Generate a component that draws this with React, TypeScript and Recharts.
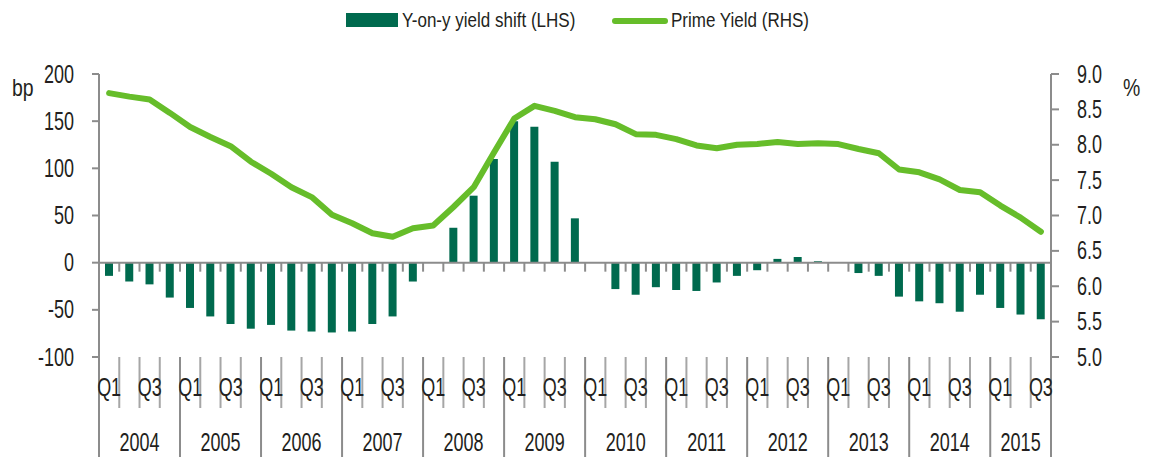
import { ComposedChart, Bar, Line, XAxis, YAxis, ReferenceLine } from "recharts";

// quarterly series, 2004 Q1 .. 2015 Q3
const years = ["2004", "2005", "2006", "2007", "2008", "2009", "2010", "2011", "2012", "2013", "2014", "2015"];
const quartersInYear = [4, 4, 4, 4, 4, 4, 4, 4, 4, 4, 4, 3];
const quarterLabels = ["Q1", "", "Q3", ""];

// Y-on-y yield shift, bp (LHS)
const yieldShift = [
    -14, -20, -23, -37,
    -48, -57, -65, -70,
    -66, -72, -73, -74,
    -73, -65, -57, -20,
    0, 37, 71, 110,
    150, 144, 107, 47,
    0, -28, -34, -26,
    -29, -30, -21, -14,
    -8, 4, 6, 1.5,
    0.5, -11, -14, -36,
    -41, -43, -52, -34,
    -48, -55, -60,
];

// Prime yield, % (RHS)
const primeYield = [
    8.73, 8.68, 8.64, 8.45,
    8.25, 8.11, 7.98, 7.76,
    7.59, 7.4, 7.26, 7.01,
    6.89, 6.75, 6.7, 6.82,
    6.86, 7.12, 7.4, 7.89,
    8.37, 8.55, 8.48, 8.39,
    8.36, 8.29, 8.15, 8.14,
    8.08, 7.99, 7.95, 8.0,
    8.01, 8.04, 8.01, 8.02,
    8.01, 7.94, 7.88, 7.65,
    7.61, 7.51, 7.36, 7.33,
    7.14, 6.97, 6.77,
];

const leftTicks = [-100, -50, 0, 50, 100, 150, 200];
const rightTicks = [5, 5.5, 6, 6.5, 7, 7.5, 8, 8.5, 9];

const FONT = '"Liberation Sans", Arial, sans-serif';
const SQUEEZE = 0.72; // the original uses a condensed face
const W = 1151;
const H = 457;
const PLOT_TOP = 74;
const PLOT_BOTTOM = 357;
const PLOT_LEFT = 99;
const PLOT_RIGHT = 1051;
const BAR = "#006a4e";
const LINE = "#66bd2a";
const AXIS = "#8c8c8c";
const SEP = "#a6a6a6";
const TEXT = "#231f20";

type Cat = { key: string; year: string; q: number; first: boolean; last: boolean; count: number };

const cats: Cat[] = [];
years.forEach((y, yi) => {
    const n = quartersInYear[yi];
    for (let q = 0; q < n; q++) {
        cats.push({ key: `${y} Q${q + 1}`, year: y, q, first: q === 0, last: q === n - 1, count: n });
    }
});

const data = cats.map((c, i) => ({
    key: c.key,
    shift: yieldShift[i],
    yld: primeYield[i],
}));

const HALF_BAND = (PLOT_RIGHT - PLOT_LEFT) / cats.length / 2;

const NarrowText = ({ x, y, anchor = "middle", size = 25, children }: any) => (
    <text
        transform={`translate(${x} ${y}) scale(${SQUEEZE} 1)`}
        x={0}
        y={0}
        textAnchor={anchor}
        dominantBaseline="central"
        fill={TEXT}
        fontSize={size}
        fontFamily={FONT}
    >
        {children}
    </text>
);

// two-level category axis: quarters, then years
const CategoryTick = (props: any) => {
    const { x, payload } = props;
    const i = payload.index;
    const c = cats[i];
    if (!c) return null;
    const left = x - HALF_BAND;
    const right = x + HALF_BAND;
    const qLabel = quarterLabels[c.q];
    return (
        <g>
            {i === 0 && <line x1={left} x2={left} y1={PLOT_TOP} y2={H} stroke={AXIS} strokeWidth={2} />}
            <line x1={right} x2={right} y1={PLOT_BOTTOM} y2={c.last ? H : 408} stroke={c.last ? AXIS : SEP} strokeWidth={2} />
            {qLabel && <NarrowText x={x} y={387}>{qLabel}</NarrowText>}
            {c.first && <NarrowText x={left + HALF_BAND * c.count} y={442}>{c.year}</NarrowText>}
        </g>
    );
};

const LeftTick = (p: any) => (
    <NarrowText x={PLOT_LEFT - 25} y={p.y} anchor="end">{p.payload.value}</NarrowText>
);

const RightTick = (p: any) => (
    <NarrowText x={PLOT_RIGHT + 26} y={p.y} anchor="start">{Number(p.payload.value).toFixed(1)}</NarrowText>
);

// zero line with small ticks at every category boundary
const ZeroLine = (p: any) => {
    const step = (p.x2 - p.x1) / cats.length;
    return (
        <g>
            <line x1={p.x1} x2={p.x2} y1={p.y1} y2={p.y2} stroke={AXIS} strokeWidth={2} />
            {cats.slice(1).map((_, k) => {
                const xx = p.x1 + (k + 1) * step;
                return <line key={k} x1={xx} x2={xx} y1={p.y1} y2={p.y1 + 9} stroke={AXIS} strokeWidth={2} />;
            })}
        </g>
    );
};

const txt = {
    position: "absolute" as const,
    fontFamily: FONT,
    color: TEXT,
    lineHeight: 1,
    whiteSpace: "nowrap" as const,
    transform: "scaleX(0.81)",
    transformOrigin: "left center",
};

export default function App() {
    return (
        <div style={{ position: "absolute", left: 0, top: 0, width: W, height: H, background: "#fff" }}>
            <ComposedChart width={W} height={H} data={data} margin={{ top: PLOT_TOP, right: 0, bottom: 0, left: 0 }}>
                <XAxis
                    dataKey="key"
                    interval={0}
                    tickLine={false}
                    axisLine={false}
                    height={H - PLOT_BOTTOM}
                    tick={(p: any) => <CategoryTick {...p} />}
                />
                <YAxis
                    yAxisId="left"
                    domain={[-100, 200]}
                    ticks={leftTicks}
                    interval={0}
                    width={PLOT_LEFT}
                    tickSize={7}
                    axisLine={{ stroke: AXIS, strokeWidth: 2 }}
                    tickLine={{ stroke: AXIS, strokeWidth: 2 }}
                    tick={(p: any) => <LeftTick {...p} />}
                />
                <YAxis
                    yAxisId="right"
                    orientation="right"
                    domain={[5, 9]}
                    ticks={rightTicks}
                    interval={0}
                    width={W - PLOT_RIGHT}
                    tickSize={8}
                    axisLine={{ stroke: AXIS, strokeWidth: 2 }}
                    tickLine={{ stroke: AXIS, strokeWidth: 2 }}
                    tick={(p: any) => <RightTick {...p} />}
                />
                <ReferenceLine yAxisId="left" y={0} shape={ZeroLine} />
                <Bar yAxisId="left" dataKey="shift" fill={BAR} barSize={8} isAnimationActive={false} />
                <Line
                    yAxisId="right"
                    dataKey="yld"
                    type="linear"
                    stroke={LINE}
                    strokeWidth={6}
                    strokeLinecap="round"
                    strokeLinejoin="round"
                    dot={false}
                    isAnimationActive={false}
                />
            </ComposedChart>

            {/* legend */}
            <div style={{ position: "absolute", left: 346, top: 13, width: 52, height: 14, background: BAR }} />
            <div style={{ ...txt, left: 402, top: 9, fontSize: 21 }}>Y-on-y yield shift (LHS)</div>
            <div style={{ position: "absolute", left: 612, top: 18, width: 56, height: 6, borderRadius: 3, background: LINE }} />
            <div style={{ ...txt, left: 671, top: 9, fontSize: 21 }}>Prime Yield (RHS)</div>

            {/* axis units */}
            <div style={{ ...txt, left: 12, top: 76, fontSize: 24 }}>bp</div>
            <div style={{ ...txt, left: 1123, top: 76, fontSize: 24 }}>%</div>
        </div>
    );
}
